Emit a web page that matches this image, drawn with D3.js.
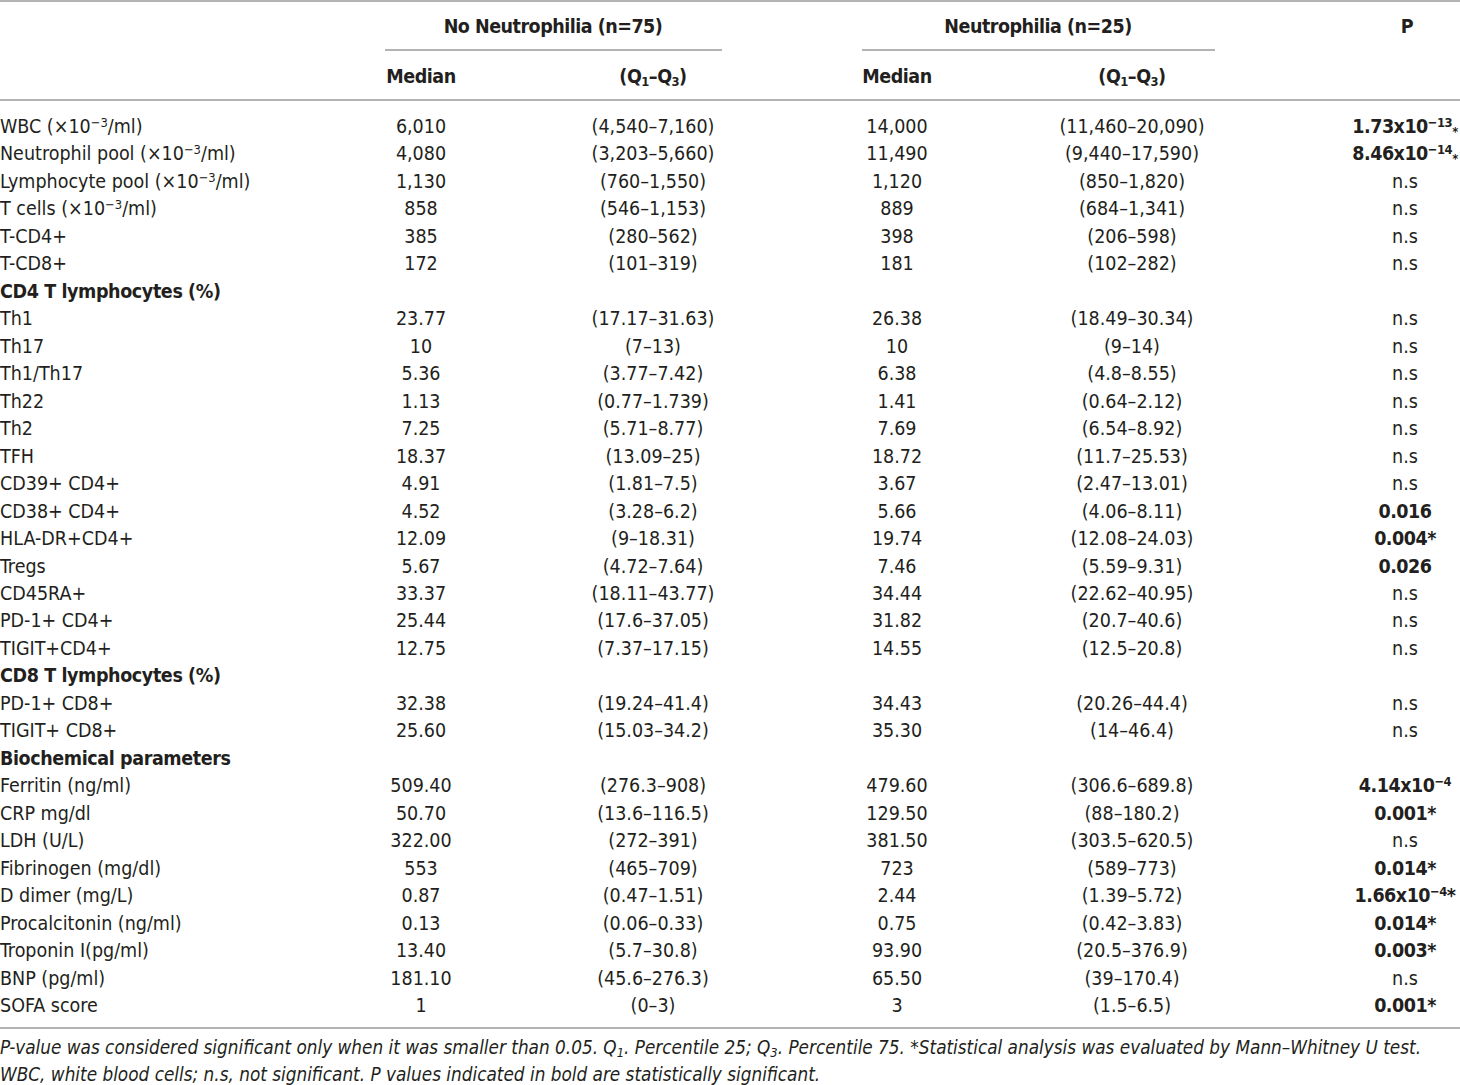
<!DOCTYPE html>
<html>
<head>
<meta charset="utf-8">
<script src="https://cdn.jsdelivr.net/npm/d3@7"></script>
<style>
  body { margin: 0; background: #fff; }
  svg { display: block; }
  text { font-family: "Liberation Sans Narrow", "Arial Narrow", "DejaVu Sans Condensed", sans-serif; fill: #231f20; }
</style>
</head>
<body>
<div id="table"></div>
<script>
// row labels, "#" marks a bold section heading
const labels = [
  "WBC (×10^−3^/ml)", "Neutrophil pool (×10^−3^/ml)", "Lymphocyte pool (×10^−3^/ml)", "T cells (×10^−3^/ml)",
  "T-CD4+", "T-CD8+", "#CD4 T lymphocytes (%)", "Th1", "Th17", "Th1/Th17", "Th22", "Th2", "TFH",
  "CD39+ CD4+", "CD38+ CD4+", "HLA-DR+CD4+", "Tregs", "CD45RA+", "PD-1+ CD4+", "TIGIT+CD4+",
  "#CD8 T lymphocytes (%)", "PD-1+ CD8+", "TIGIT+ CD8+", "#Biochemical parameters",
  "Ferritin (ng/ml)", "CRP mg/dl", "LDH (U/L)", "Fibrinogen (mg/dl)", "D dimer (mg/L)",
  "Procalcitonin (ng/ml)", "Troponin I(pg/ml)", "BNP (pg/ml)", "SOFA score"
]
const medianNo = ["6,010", "4,080", "1,130", "858", "385", "172", "", "23.77", "10", "5.36", "1.13", "7.25", "18.37",
  "4.91", "4.52", "12.09", "5.67", "33.37", "25.44", "12.75", "", "32.38", "25.60", "",
  "509.40", "50.70", "322.00", "553", "0.87", "0.13", "13.40", "181.10", "1"]
const rangeNo = ["(4,540–7,160)", "(3,203–5,660)", "(760–1,550)", "(546–1,153)", "(280–562)", "(101–319)", "",
  "(17.17–31.63)", "(7–13)", "(3.77–7.42)", "(0.77–1.739)", "(5.71–8.77)", "(13.09–25)", "(1.81–7.5)",
  "(3.28–6.2)", "(9–18.31)", "(4.72–7.64)", "(18.11–43.77)", "(17.6–37.05)", "(7.37–17.15)", "",
  "(19.24–41.4)", "(15.03–34.2)", "", "(276.3–908)", "(13.6–116.5)", "(272–391)", "(465–709)",
  "(0.47–1.51)", "(0.06–0.33)", "(5.7–30.8)", "(45.6–276.3)", "(0–3)"]
const medianYes = ["14,000", "11,490", "1,120", "889", "398", "181", "", "26.38", "10", "6.38", "1.41", "7.69", "18.72",
  "3.67", "5.66", "19.74", "7.46", "34.44", "31.82", "14.55", "", "34.43", "35.30", "",
  "479.60", "129.50", "381.50", "723", "2.44", "0.75", "93.90", "65.50", "3"]
const rangeYes = ["(11,460–20,090)", "(9,440–17,590)", "(850–1,820)", "(684–1,341)", "(206–598)", "(102–282)", "",
  "(18.49–30.34)", "(9–14)", "(4.8–8.55)", "(0.64–2.12)", "(6.54–8.92)", "(11.7–25.53)", "(2.47–13.01)",
  "(4.06–8.11)", "(12.08–24.03)", "(5.59–9.31)", "(22.62–40.95)", "(20.7–40.6)", "(12.5–20.8)", "",
  "(20.26–44.4)", "(14–46.4)", "", "(306.6–689.8)", "(88–180.2)", "(303.5–620.5)", "(589–773)",
  "(1.39–5.72)", "(0.42–3.83)", "(20.5–376.9)", "(39–170.4)", "(1.5–6.5)"]
// ^..^ superscript, _.._ lowered mark
const pValues = ["1.73x10^−13^_*_", "8.46x10^−14^_*_", "n.s", "n.s", "n.s", "n.s", "", "n.s", "n.s", "n.s", "n.s",
  "n.s", "n.s", "n.s", "0.016", "0.004*", "0.026", "n.s", "n.s", "n.s", "", "n.s", "n.s", "",
  "4.14x10^−4^", "0.001*", "n.s", "0.014*", "1.66x10^−4^*", "0.014*", "0.003*", "n.s", "0.001*"]

const groups = ["No Neutrophilia (n=75)", "Neutrophilia (n=25)"]
const subHeads = ["Median", "(Q_1_–Q_3_)", "Median", "(Q_1_–Q_3_)"]
const notes = [
  "P-value was considered significant only when it was smaller than 0.05. Q_1_. Percentile 25; Q_3_. Percentile 75. *Statistical analysis was evaluated by Mann–Whitney U test.",
  "WBC, white blood cells; n.s, not significant. P values indicated in bold are statistically significant."
]

const width = 1460
const height = 1085
const fs = 19.5
const lineColor = "#9a9a9a"

const svg = d3.select('#table').append('svg')
  .attr('width', width)
  .attr('height', height)

const y = d3.scalePoint()
  .domain(d3.range(labels.length))
  .range([126, 1005])

const colX = d3.scaleOrdinal()
  .domain(["mNo", "rNo", "mYes", "rYes", "p"])
  .range([421, 653, 897, 1132, 1405])

// writes marked-up text as tspans
function rich(sel, str) {
  const parts = str.split(/(\^[^^]*\^|_[^_]*_)/).filter(s => s.length)
  parts.forEach(p => {
    if (p[0] === '^') {
      sel.append('tspan').attr('font-size', fs * 0.66).attr('baseline-shift', '45%').text(p.slice(1, -1))
    } else if (p[0] === '_') {
      sel.append('tspan').attr('font-size', fs * 0.66).attr('baseline-shift', '-20%').text(p.slice(1, -1))
    } else {
      sel.append('tspan').text(p)
    }
  })
}

function hline(x1, x2, yy) {
  svg.append('line')
    .attr('x1', x1).attr('x2', x2).attr('y1', yy).attr('y2', yy)
    .attr('stroke', lineColor).attr('stroke-width', 1.5)
}

hline(0, width, 1)
hline(385, 722, 50)
hline(862, 1215, 50)
hline(0, width, 100)
hline(0, width, 1028)

// header
const head = svg.append('g').attr('font-weight', 'bold').attr('text-anchor', 'middle')
  .attr('letter-spacing', -0.5)
head.selectAll('.grp')
  .data(groups)
  .enter()
  .append('text')
  .attr('class', 'grp')
  .attr('x', (d, i) => i === 0 ? 553 : 1038)
  .attr('y', 33)
  .attr('font-size', fs)
  .text(d => d)

head.append('text').attr('x', 1407).attr('y', 33).attr('font-size', fs).text('P')

head.selectAll('.sub')
  .data(subHeads)
  .enter()
  .append('text')
  .attr('class', 'sub')
  .attr('x', (d, i) => colX.range()[i])
  .attr('y', 83)
  .attr('font-size', fs)
  .each(function(d) { rich(d3.select(this), d) })

// body rows
const rows = svg.append('g').selectAll('.row')
  .data(labels.map((l, i) => ({
    i, label: l, mNo: medianNo[i], rNo: rangeNo[i], mYes: medianYes[i], rYes: rangeYes[i], p: pValues[i]
  })))
  .enter()
  .append('g')
  .attr('class', 'row')
  .attr('transform', d => `translate(0, ${y(d.i) + 7})`)
  .attr('font-size', fs)

rows.append('text')
  .attr('x', 0)
  .attr('font-weight', d => d.label[0] === '#' ? 'bold' : 'normal')
  .attr('letter-spacing', d => d.label[0] === '#' ? -0.4 : 0)
  .each(function(d) { rich(d3.select(this), d.label.replace('#', '')) })

;["mNo", "rNo", "mYes", "rYes"].forEach(k => {
  rows.append('text')
    .attr('x', colX(k))
    .attr('text-anchor', 'middle')
    .text(d => d[k])
})

rows.append('text')
  .attr('x', colX('p'))
  .attr('text-anchor', 'middle')
  .attr('font-weight', d => d.p === 'n.s' ? 'normal' : 'bold')
  .attr('letter-spacing', d => d.p === 'n.s' ? 0 : -0.5)
  .each(function(d) { rich(d3.select(this), d.p) })

// footnotes
svg.selectAll('.note')
  .data(notes)
  .enter()
  .append('text')
  .attr('class', 'note')
  .attr('x', 0)
  .attr('y', (d, i) => 1054 + i * 27)
  .attr('font-size', 18.8)
  .attr('font-style', 'italic')
  .each(function(d) { rich(d3.select(this), d) })
</script>
</body>
</html>
